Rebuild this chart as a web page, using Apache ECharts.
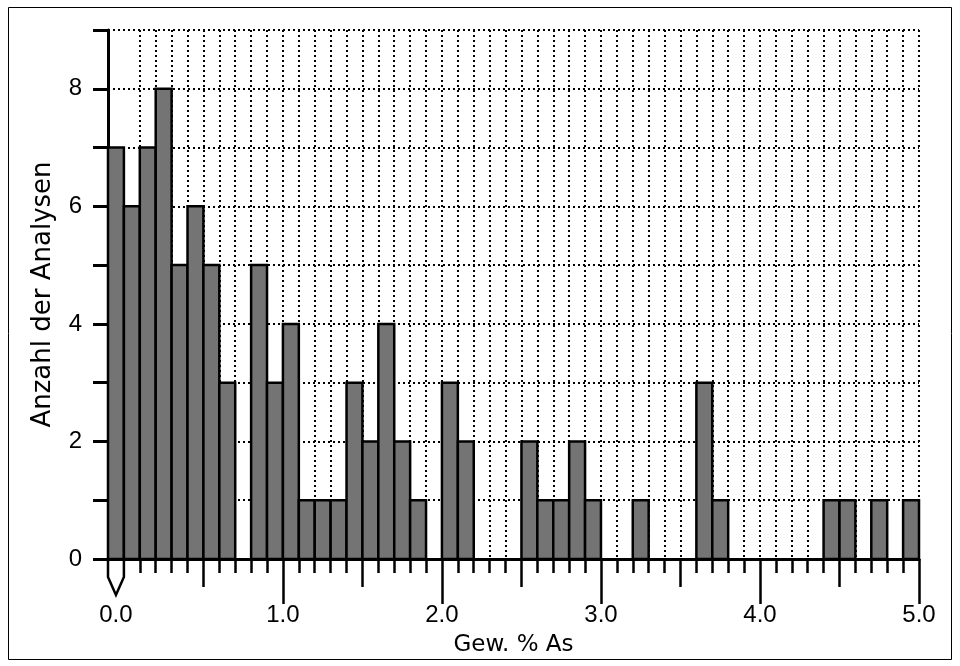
<!DOCTYPE html>
<html>
<head>
<meta charset="utf-8">
<script src="https://cdn.jsdelivr.net/npm/echarts@6/dist/echarts.min.js"></script>
<style>
  html, body { margin: 0; padding: 0; background: #fff; }
  #chart { width: 960px; height: 666px; }
</style>
</head>
<body>
<div id="chart"></div>
<script>
// Frequency of As contents (weight %), classes 0.1 % wide.
// The first class (left of 0.0) collects the analyses reported as 0.0.
const binStart = -0.1;
const binWidth = 0.1;
const counts = [
  7, 6, 7, 8, 5, 6, 5, 3, 0, 5,
  3, 4, 1, 1, 1, 3, 2, 4, 2, 1,
  0, 3, 2, 0, 0, 0, 2, 1, 1, 2,
  1, 0, 0, 1, 0, 0, 0, 3, 1, 0,
  0, 0, 0, 0, 0, 1, 1, 0, 1, 0,
  1
];
const xLabelValues = [-0.05, 1, 2, 3, 4, 5];
const xLabelTexts = ['0.0', '1.0', '2.0', '3.0', '4.0', '5.0'];
const yLabelValues = [0, 2, 4, 6, 8];
const xName = 'Gew. % As';
const yName = 'Anzahl der Analysen';

const TICK_FONT = '"Liberation Sans", Arial, Helvetica, sans-serif';
const NAME_FONT = '"DejaVu Sans", "Liberation Sans", Arial, sans-serif';
const xMin = binStart;
const xMax = 5.0;

// class edges for every non-empty class
const bins = [];
counts.forEach((c, i) => {
  if (c > 0) {
    const x0 = Math.round((binStart + i * binWidth) * 100) / 100;
    const x1 = Math.round((binStart + (i + 1) * binWidth) * 100) / 100;
    bins.push([x0, x1, c]);
  }
});

// tick positions on the x axis: every 0.1, every 0.5, every 1.0
const tenths = [], halves = [], wholes = [];
for (let k = 1; k <= 50; k++) tenths.push(k / 10);
for (let k = 1; k <= 10; k += 2) halves.push(k / 2);
for (let k = 1; k <= 5; k++) wholes.push(k);

const dotted = { show: true, lineStyle: { color: '#000', width: 2, type: [2, 3] } };

const baseX = {
  type: 'value', gridIndex: 0, position: 'bottom',
  min: xMin, max: xMax, interval: 0.1,
  axisLine: { show: false },
  splitLine: { show: false },
  axisLabel: { show: false },
};

const chart = echarts.init(document.getElementById('chart'), null, { renderer: 'canvas' });
chart.setOption({
  animation: false,
  backgroundColor: '#fff',
  grid: { left: 108, right: 41, top: 30, bottom: 107, containLabel: false },
  graphic: [{
    type: 'rect', z: -10,
    shape: { x: 8.5, y: 7.5, width: 943, height: 652 },
    style: { fill: 'none', stroke: '#000', lineWidth: 1 }
  }],
  xAxis: [
    Object.assign({}, baseX, {
      axisLine: { show: true, onZero: false, lineStyle: { color: '#000', width: 3 } },
      splitLine: dotted,
      axisTick: { show: true, customValues: tenths, length: 14, lineStyle: { color: '#000', width: 2.5 } },
    }),
    Object.assign({}, baseX, {
      axisTick: { show: true, customValues: halves, length: 28, lineStyle: { color: '#000', width: 2.5 } },
    }),
    Object.assign({}, baseX, {
      name: xName, nameLocation: 'middle', nameGap: 75,
      nameTextStyle: { color: '#000', fontFamily: NAME_FONT, fontSize: 23 },
      axisTick: { show: true, customValues: wholes, length: 45, lineStyle: { color: '#000', width: 2.5 } },
      axisLabel: {
        show: true, customValues: xLabelValues, margin: 44,
        color: '#000', fontFamily: TICK_FONT, fontSize: 24,
        formatter: v => xLabelTexts[xLabelValues.findIndex(u => Math.abs(u - v) < 1e-6)] || ''
      },
    }),
  ],
  yAxis: {
    type: 'value', min: 0, max: 9, interval: 1,
    name: yName, nameLocation: 'middle', nameGap: 52, nameRotate: 90,
    nameTextStyle: { color: '#000', fontFamily: NAME_FONT, fontSize: 26 },
    axisLine: { show: true, onZero: false, lineStyle: { color: '#000', width: 3 } },
    axisTick: { show: true, length: 15, lineStyle: { color: '#000', width: 3 } },
    axisLabel: { customValues: yLabelValues, margin: 26, color: '#000', fontFamily: TICK_FONT, fontSize: 24 },
    splitLine: dotted,
  },
  series: [
    {
      type: 'custom', name: 'Analysen', xAxisIndex: 0,
      encode: { x: [0, 1], y: 2 },
      data: bins,
      clip: false,
      renderItem: (params, api) => {
        const top = api.coord([api.value(0), api.value(2)]);
        const bot = api.coord([api.value(1), 0]);
        return {
          type: 'rect',
          shape: { x: top[0], y: top[1], width: bot[0] - top[0], height: bot[1] - top[1] },
          style: { fill: '#747474', stroke: '#000', lineWidth: 2.5 }
        };
      }
    },
    {
      // pointed marker under the 0.0 class
      type: 'custom', name: 'marker', xAxisIndex: 0,
      encode: { x: [0, 1], y: 2 },
      data: [[binStart, binStart + binWidth, 0]],
      clip: false, silent: true,
      renderItem: (params, api) => {
        const a = api.coord([api.value(0), 0]);
        const b = api.coord([api.value(1), 0]);
        const mid = (a[0] + b[0]) / 2;
        return {
          type: 'polyline',
          shape: { points: [[a[0], a[1]], [a[0], a[1] + 18], [mid, a[1] + 36], [b[0], b[1] + 18], [b[0], b[1]]] },
          style: { fill: 'none', stroke: '#000', lineWidth: 2.5 }
        };
      }
    }
  ]
});
</script>
</body>
</html>
